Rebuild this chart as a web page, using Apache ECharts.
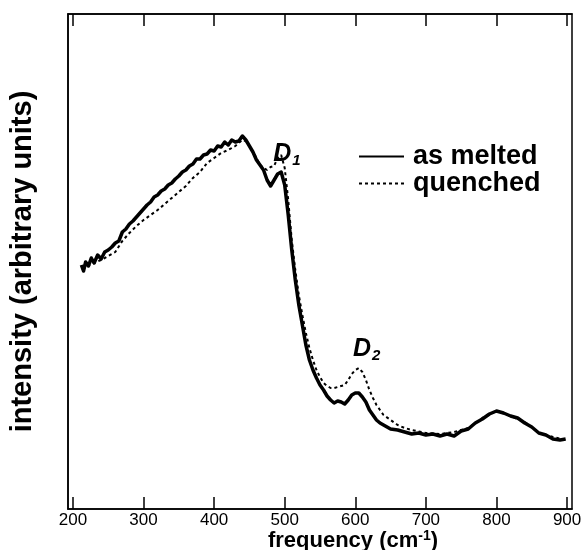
<!DOCTYPE html>
<html>
<head>
<meta charset="utf-8">
<script src="https://cdn.jsdelivr.net/npm/echarts@6/dist/echarts.min.js"></script>
<style>
html,body{margin:0;padding:0;background:#fff;}
#c{width:582px;height:550px;}
</style>
</head>
<body>
<div id="c"></div>
<script>
// ---- data ----
var asMeltedFreq = [212,215,218,222,226,230,235,240,245,250,255,260,265,270,275,280,285,290,295,300,305,310,315,320,325,330,335,340,345,350,355,360,365,370,375,380,385,390,395,400,405,410,415,420,425,430,435,440,445,450,455,460,465,470,475,480,485,490,495,500,505,510,515,520,525,530,535,540,545,550,555,560,565,570,575,580,585,590,595,600,605,610,615,620,625,630,635,640,650,660,670,680,690,700,710,720,730,740,750,760,770,780,790,800,810,820,830,840,850,860,870,880,890,898];
var asMeltedVal = [244,238,247,243,251,246,254,250,257,259,262,266,268,277,280,285,288,292,296,300,304,307,312,314,318,320,324,326,330,333,337,339,343,345,350,350,354,355,359,358,363,362,367,364,369,367,368,373,369,363,357,349,344,339,329,323,329,335,337,324,294,259,229,204,184,164,149,139,131,124,119,113,109,106,108,107,105,109,114,116,116,112,107,99,94,89,86,84,80,79,77,75,76,74,75,73,75,73,78,80,86,90,95,98,96,93,91,86,82,76,74,70,69,70];
var quenchedFreq = [212,220,230,240,250,260,270,280,290,300,310,320,330,340,350,360,370,380,390,400,410,420,430,440,445,450,460,465,470,475,480,485,490,495,500,505,510,515,520,525,530,535,540,545,550,555,560,565,570,575,580,585,590,595,600,605,610,615,620,625,630,635,640,650,660,670,680,700,720,740,760,780,800,820,840,860,880,898];
var quenchedVal = [242,243,246,249,253,257,268,276,283,289,294,299,305,311,317,323,331,337,346,351,356,359,363,369,368,363,351,344,341,339,342,343,351,354,341,309,269,239,214,194,176,161,149,139,132,126,123,121,121,122,123,124,129,135,139,141,137,129,119,111,104,99,94,89,84,81,79,76,75,77,81,91,98,93,87,76,72,69];
var xTicks = [200,300,400,500,600,700,800,900];
var seriesNames = ['as melted','quenched'];
var peakLabels = [{name:'1', at:[503, 355]}, {name:'2', at:[616, 160]}];

function pairs(xs, ys){ var o=[]; for(var i=0;i<xs.length;i++) o.push([xs[i], ys[i]]); return o; }

var chart = echarts.init(document.getElementById('c'), null, {renderer:'canvas'});
var FONT = '"Liberation Sans", Arial, Helvetica, sans-serif';
var tickStyle = {show:true, inside:true, length:12, lineStyle:{color:'#000', width:1.5}};

var option = {
  backgroundColor:'#fff',
  animation:false,
  textStyle:{fontFamily:FONT},
  grid:{left:68, right:10, top:14, bottom:41, outerBoundsMode:'none', containLabel:false, show:true, borderColor:'#000', borderWidth:1.5, backgroundColor:'transparent'},
  legend:{
    orient:'vertical', left:353, top:138, itemWidth:45, itemHeight:14, itemGap:0,
    data: seriesNames,
    itemStyle:{opacity:0},
    textStyle:{fontFamily:FONT, fontWeight:'bold', fontSize:27, lineHeight:25, color:'#000', padding:[0,0,0,4]}
  },
  xAxis:[{
    type:'value', min:193, max:907, position:'bottom',
    axisLine:{show:true, lineStyle:{color:'#000', width:1.5}},
    axisTick:Object.assign({customValues:xTicks}, tickStyle),
    axisLabel:{customValues:xTicks, color:'#000', fontSize:17, fontFamily:FONT, margin:3},
    splitLine:{show:false},
    name:'{b|frequency (cm}{s|-1}{b|)}', nameLocation:'middle', nameGap:32, nameMoveOverlap:false,
    nameTextStyle:{verticalAlign:'middle', padding:[0,0,0,66], rich:{b:{fontFamily:FONT, fontWeight:'bold', fontSize:22, color:'#000'}, s:{fontFamily:FONT, fontWeight:'bold', fontSize:14, color:'#000', verticalAlign:'top', padding:[0,0,10,0]}}}
  },{
    type:'value', min:193, max:907, position:'top',
    axisLine:{show:true, lineStyle:{color:'#000', width:1.5}},
    axisTick:Object.assign({customValues:xTicks}, tickStyle),
    axisLabel:{show:false}, splitLine:{show:false}
  }],
  yAxis:[{
    type:'value', min:0, max:495,
    axisLine:{show:true, lineStyle:{color:'#000', width:1.5}},
    axisTick:{show:false}, axisLabel:{show:false}, splitLine:{show:false},
    name:'intensity (arbitrary units)', nameLocation:'middle', nameGap:31, nameRotate:90, nameMoveOverlap:false,
    nameTextStyle:{fontFamily:FONT, fontWeight:'bold', fontSize:29, color:'#000'}
  }],
  series:[{
    name:seriesNames[0], type:'line', data:pairs(asMeltedFreq, asMeltedVal),
    symbol:'none', smooth:false, z:3,
    lineStyle:{color:'#000', width:3.5, type:'solid', join:'round'},
    itemStyle:{color:'#000'},
    markPoint:{
      symbol:'circle', symbolSize:0, silent:true,
      data: peakLabels.map(function(p){ return {coord:p.at, value:p.name}; }),
      label:{show:true, position:'inside', formatter:function(prm){ return '{d|D}{s|'+prm.value+'}'; },
        rich:{d:{fontFamily:FONT, fontWeight:'bold', fontStyle:'italic', fontSize:25, color:'#000'},
              s:{fontFamily:FONT, fontWeight:'bold', fontStyle:'italic', fontSize:15, color:'#000', verticalAlign:'bottom', padding:[14,0,0,1]}}}
    }
  },{
    name:seriesNames[1], type:'line', data:pairs(quenchedFreq, quenchedVal),
    symbol:'none', smooth:false, z:2,
    lineStyle:{color:'#000', width:2, type:[3,3]},
    itemStyle:{color:'#000'}
  }]
};
chart.setOption(option);
</script>
</body>
</html>
